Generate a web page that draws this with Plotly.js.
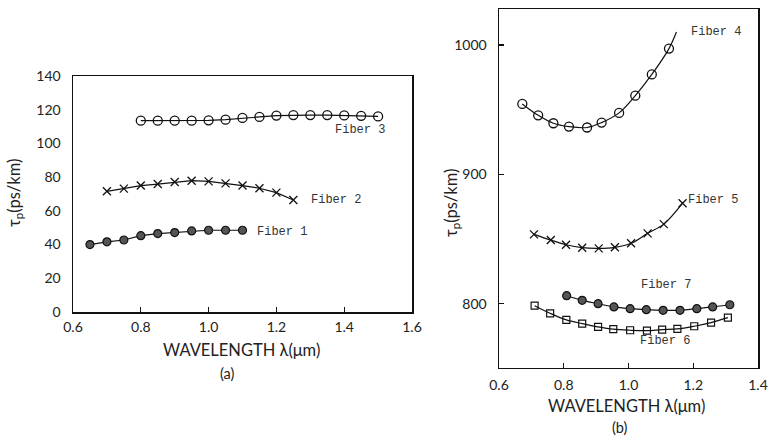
<!DOCTYPE html>
<html>
<head>
<meta charset="utf-8">
<script src="https://cdn.plot.ly/plotly-3.0.1.min.js"></script>
<style>html,body{margin:0;padding:0;background:#fff;}#chart{width:769px;height:436px;}</style>
</head>
<body>
<div id="chart"></div>
<script>
// ---- Panel (a) data ----
const fiber1X = [0.65, 0.70, 0.75, 0.80, 0.85, 0.90, 0.95, 1.00, 1.05, 1.10];
const fiber1Y = [40.0, 41.6, 42.7, 45.3, 46.5, 47.1, 48.1, 48.5, 48.5, 48.5];
const fiber2X = [0.70, 0.75, 0.80, 0.85, 0.90, 0.95, 1.00, 1.05, 1.10, 1.15, 1.20, 1.25];
const fiber2Y = [71.6, 73.2, 75.0, 75.9, 77.1, 77.9, 77.5, 76.3, 75.0, 73.4, 70.8, 66.4];
const fiber3X = [0.80, 0.85, 0.90, 0.95, 1.00, 1.05, 1.10, 1.15, 1.20, 1.25, 1.30, 1.35, 1.40, 1.45, 1.50];
const fiber3Y = [113.5, 113.5, 113.5, 113.5, 113.7, 114.1, 115.1, 115.7, 116.5, 116.8, 116.8, 116.8, 116.6, 116.4, 116.0];

// ---- Panel (b) data ----
const fiber4X = [0.672, 0.721, 0.768, 0.816, 0.872, 0.917, 0.971, 1.021, 1.072, 1.125];
const fiber4Y = [954.4, 945.6, 939.5, 936.9, 936.2, 940.0, 947.5, 960.8, 977.2, 997.2];
const fiber4CurveEndX = [1.148];
const fiber4CurveEndY = [1010];
const fiber5X = [0.708, 0.760, 0.807, 0.857, 0.908, 0.958, 1.008, 1.059, 1.109, 1.167];
const fiber5Y = [853.6, 849.2, 845.6, 843.3, 842.8, 843.6, 846.7, 854.4, 861.5, 877.7];
const fiber6X = [0.710, 0.758, 0.808, 0.857, 0.906, 0.953, 1.005, 1.057, 1.104, 1.151, 1.203, 1.255, 1.307];
const fiber6Y = [798.5, 792.6, 787.5, 784.6, 782.1, 780.3, 779.5, 779.2, 780.0, 780.5, 782.6, 785.4, 789.2];
const fiber7X = [0.809, 0.857, 0.906, 0.955, 1.005, 1.055, 1.107, 1.159, 1.211, 1.260, 1.313];
const fiber7Y = [806.2, 802.6, 800.0, 797.5, 796.2, 795.4, 794.9, 794.9, 796.2, 797.5, 799.2];

// ---- Tick labels ----
const xTicksA = [0.6, 0.8, 1.0, 1.2, 1.4, 1.6];
const xTickTextA = ["0.6", "0.8", "1.0", "1.2", "1.4", "1.6"];
const yTicksA = [0, 20, 40, 60, 80, 100, 120, 140];
const xTicksB = [0.6, 0.8, 1.0, 1.2, 1.4];
const xTickTextB = ["0.6", "0.8", "1.0", "1.2", "1.4"];
const yTicksB = [800, 900, 1000];

const W = 769, H = 436;
const px = x => x / W;
const py = y => 1 - y / H;

const LINE = {color: '#111', width: 1.2};
const markerFilled = {symbol: 'circle', size: 8, color: '#555', line: {color: '#111', width: 1.2}};
const markerOpen = {symbol: 'circle-open', size: 9, color: '#111', line: {width: 1.3}};
const markerX = {symbol: 'x-thin-open', size: 8, color: '#111', line: {color: '#111', width: 1.3}};
const markerSq = {symbol: 'square-open', size: 7, color: '#111', line: {width: 1.2}};

const traces = [
  {x: fiber1X, y: fiber1Y, xaxis: 'x', yaxis: 'y', mode: 'lines+markers', line: LINE, marker: markerFilled, name: 'Fiber 1'},
  {x: fiber2X, y: fiber2Y, xaxis: 'x', yaxis: 'y', mode: 'lines+markers', line: LINE, marker: markerX, name: 'Fiber 2'},
  {x: fiber3X, y: fiber3Y, xaxis: 'x', yaxis: 'y', mode: 'lines+markers', line: LINE, marker: markerOpen, name: 'Fiber 3'},
  {x: fiber4X.concat(fiber4CurveEndX), y: fiber4Y.concat(fiber4CurveEndY), xaxis: 'x2', yaxis: 'y2', mode: 'lines', line: Object.assign({shape: 'spline'}, LINE), name: 'Fiber 4 curve'},
  {x: fiber4X, y: fiber4Y, xaxis: 'x2', yaxis: 'y2', mode: 'markers', marker: markerOpen, name: 'Fiber 4'},
  {x: fiber5X, y: fiber5Y, xaxis: 'x2', yaxis: 'y2', mode: 'lines+markers', line: Object.assign({shape: 'spline'}, LINE), marker: markerX, name: 'Fiber 5'},
  {x: fiber6X, y: fiber6Y, xaxis: 'x2', yaxis: 'y2', mode: 'lines+markers', line: Object.assign({shape: 'spline'}, LINE), marker: markerSq, name: 'Fiber 6'},
  {x: fiber7X, y: fiber7Y, xaxis: 'x2', yaxis: 'y2', mode: 'lines+markers', line: Object.assign({shape: 'spline'}, LINE), marker: markerFilled, name: 'Fiber 7'}
];

const tickFont = {family: 'Lato, "Noto Sans", sans-serif', size: 14, color: '#222'};
const axisBase = {showline: true, linecolor: '#111', linewidth: 1.5, mirror: true, showgrid: false, zeroline: false, tickfont: tickFont, ticklen: 5, tickcolor: '#111', tickwidth: 1.2, fixedrange: true};

const layout = {
  width: W, height: H,
  margin: {l: 0, r: 0, t: 0, b: 0},
  paper_bgcolor: '#fff', plot_bgcolor: '#fff',
  showlegend: false,
  xaxis: Object.assign({}, axisBase, {domain: [px(73), px(412)], range: [0.6, 1.6], tickvals: xTicksA, ticktext: xTickTextA, ticks: 'inside', anchor: 'y', ticklabelstandoff: 2}),
  yaxis: Object.assign({}, axisBase, {domain: [py(312), py(76)], range: [0, 140], tickvals: yTicksA, ticks: '', anchor: 'x', ticklabelstandoff: 8}),
  xaxis2: Object.assign({}, axisBase, {domain: [px(499), px(758)], range: [0.6, 1.4], tickvals: xTicksB, ticktext: xTickTextB, ticks: 'inside', anchor: 'y2', ticklabelstandoff: 4}),
  yaxis2: Object.assign({}, axisBase, {domain: [py(367.5), py(9)], range: [750.7, 1027.8], tickvals: yTicksB, ticks: 'inside', anchor: 'x2', ticklabelstandoff: 8}),
  annotations: []
};

const titleFont = {family: 'Lato, "Noto Sans", sans-serif', size: 16.5, color: '#222'};
const subFont = {family: 'Lato, "Noto Sans", sans-serif', size: 14.5, color: '#222'};
const labelFont = {family: '"Liberation Mono", "DejaVu Sans Mono", monospace', size: 12, color: '#333'};
function ann(text, x, y, opts) {
  layout.annotations.push(Object.assign({text: text, x: px(x), y: py(y), xref: 'paper', yref: 'paper', showarrow: false, font: titleFont, xanchor: 'center', yanchor: 'middle', borderpad: 0}, opts || {}));
}
ann('τ<sub>p</sub>(ps/km)', 15, 193, {textangle: -90});
ann('WAVELENGTH λ(μm)', 242, 350);
ann('(a)', 227, 373, {font: subFont});
ann('τ<sub>p</sub>(ps/km)', 452, 203, {textangle: -90});
ann('WAVELENGTH λ(μm)', 627, 406);
ann('(b)', 620, 427, {font: subFont});
ann('Fiber 3', 334, 130, {font: labelFont, xanchor: 'left'});
ann('Fiber 2', 310, 200, {font: labelFont, xanchor: 'left'});
ann('Fiber 1', 256, 232, {font: labelFont, xanchor: 'left'});
ann('Fiber 4', 690, 32, {font: labelFont, xanchor: 'left'});
ann('Fiber 5', 687, 200, {font: labelFont, xanchor: 'left'});
ann('Fiber 7', 640, 285, {font: labelFont, xanchor: 'left'});
ann('Fiber 6', 639, 341, {font: labelFont, xanchor: 'left'});

Plotly.newPlot('chart', traces, layout, {staticPlot: true, displayModeBar: false});
</script>
</body>
</html>
